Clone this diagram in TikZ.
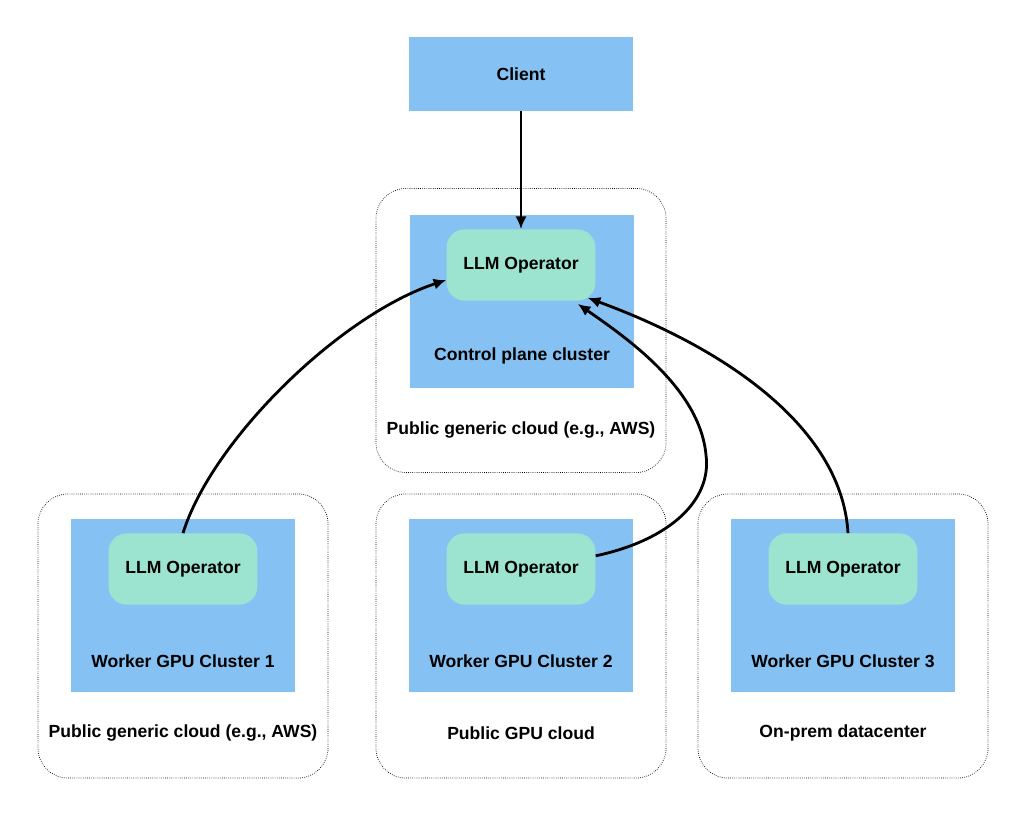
\documentclass[tikz,border=0pt]{standalone}
\usepackage{fontspec}
\setmainfont{Liberation Sans}
\usetikzlibrary{positioning,calc,arrows.meta}
\definecolor{boxblue}{RGB}{133,194,243}
\definecolor{opgreen}{RGB}{156,228,208}

\begin{document}
\begin{tikzpicture}[x=0.025cm,y=-0.025cm,font=\fontsize{12.5}{15}\selectfont\bfseries,
    cloudbox/.style={draw,densely dotted,line width=0.5pt,rounded corners=0.75cm,minimum width=7.25cm,minimum height=7.1cm},
    clusterbox/.style={fill=boxblue,minimum width=5.6cm,minimum height=4.3cm},
    opbox/.style={fill=opgreen,rounded corners=0.45cm,minimum width=3.72cm,minimum height=1.78cm},
    link/.style={-{Latex[length=9pt,width=8pt]},line width=2pt}]
      \useasboundingbox (0,0) rectangle (1027,817);

      % Client
      \node[clusterbox,minimum height=1.85cm] (client) at (521,74) {Client};

      % Control plane
      \node[cloudbox] (cloud0) at (521,330.5) {};
      \node[clusterbox] (ctrl) at (522,301.5) {};
      \node[opbox] (ctrlop) at (521,265) {LLM Operator};
      \node (ctrllbl) at (522,356) {Control plane cluster};
      \node (cloudlbl0) at (521,430) {Public generic cloud (e.g., AWS)};

      % Worker clusters
      \foreach \i/\x/\where in {1/183/{Public generic cloud (e.g., AWS)},2/521/{Public GPU cloud},3/843/{On-prem datacenter}} {
        \node[cloudbox] (cloud\i) at (\x,636) {};
        \node[clusterbox] (worker\i) at (\x,605.5) {};
        \node[opbox] (op\i) at (\x,569) {LLM Operator};
        \node (workerlbl\i) at (\x,661) {Worker GPU Cluster \i};
        \node (cloudlbl\i) at (\x,733) {\where};
      }

      % Arrows
      \draw[link] (client) -- (ctrlop);
      \draw[link] (op1.north) .. controls (212,440) and (340,315) .. ([shift={(0,15)}]ctrlop.west);
      \draw[link] (op2.10) .. controls (670,540) and (712,500) .. (706,455)
                  .. controls (700,390) and (630,340) .. ([shift={(-18,3)}]ctrlop.south east);
      \draw[link] ([shift={(5,0)}]op3.north) .. controls (842,430) and (730,350) .. ([shift={(-8,-3)}]ctrlop.south east);
    \end{tikzpicture}
\end{document}
